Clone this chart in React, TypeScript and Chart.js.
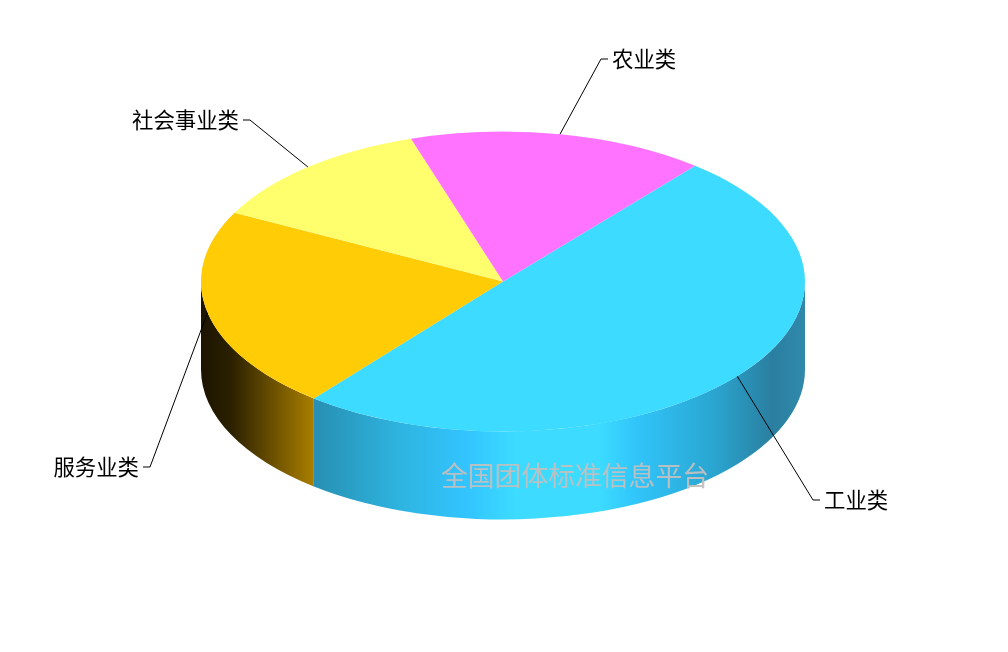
import { useRef, useEffect } from "react";
import { Chart, registerables } from "chart.js";
Chart.register(...registerables);

const categories = ["工业类", "服务业类", "社会事业类", "农业类"];
const shares = [49.8, 21.8, 12.5, 15.9];
const topColors = ["#3cdbff", "#ffcc06", "#ffff6e", "#ff73ff"];
const watermark = "全国团体标准信息平台";

// side wall shading, horizontal gradient stops [x fraction across the pie, colour]
const wallStops: [number, string][][] = [
    [
        [0.185, "#278fb2"],
        [0.33, "#2eb4e0"],
        [0.44, "#33c4ff"],
        [0.52, "#3cdbff"],
        [0.66, "#3cdbff"],
        [0.72, "#31c5fa"],
        [0.85, "#2aa5d0"],
        [0.945, "#2a7fa0"],
        [1, "#3089ab"],
    ],
    [
        [0, "#1c1400"],
        [0.05, "#2b2000"],
        [0.185, "#a87e00"],
    ],
    [[0, "#a6a648"]],
    [[0, "#a64ba6"]],
];

// where each leader line bends, and which side its label sits on
const elbows = [
    { x: 813, y: 500, dir: 1 },
    { x: 150, y: 467, dir: -1 },
    { x: 250, y: 120, dir: -1 },
    { x: 601, y: 59, dir: 1 },
];

const CENTER_Y = 281.5;
const SQUASH = 0.4967;
const DEPTH = 88;

const squash = (ctx: CanvasRenderingContext2D, cy: number) => {
    ctx.translate(0, CENTER_Y);
    ctx.scale(1, SQUASH);
    ctx.translate(0, -cy);
};

const pie3d = {
    id: "pie3d",
    beforeDatasetsDraw: (chart: any) => {
        const ctx = chart.ctx;
        const left = chart.chartArea.left;
        const width = chart.chartArea.width;
        chart.getDatasetMeta(0).data.forEach((arc: any, i: number) => {
            const { x, startAngle, endAngle, outerRadius } = arc.getProps(
                ["x", "startAngle", "endAngle", "outerRadius"],
                true
            );
            // only the part facing the viewer has a wall
            const tau = Math.PI * 2;
            let a = startAngle;
            let b = endAngle;
            while (a < -Math.PI) {
                a += tau;
                b += tau;
            }
            const from = Math.max(a, 0);
            const to = Math.min(b, Math.PI);
            if (to <= from) return;
            const ry = outerRadius * SQUASH;
            const grad = ctx.createLinearGradient(left, 0, left + width, 0);
            wallStops[i].forEach(([p, c]) => grad.addColorStop(p, c));
            ctx.beginPath();
            ctx.ellipse(x, CENTER_Y, outerRadius, ry, 0, from, to);
            ctx.ellipse(x, CENTER_Y + DEPTH, outerRadius, ry, 0, to, from, true);
            ctx.closePath();
            ctx.fillStyle = grad;
            ctx.fill();
        });
    },
    beforeDatasetDraw: (chart: any) => {
        chart.ctx.save();
        squash(chart.ctx, chart.getDatasetMeta(0).data[0].y);
    },
    afterDatasetDraw: (chart: any) => {
        chart.ctx.restore();
    },
    afterDatasetsDraw: (chart: any) => {
        const ctx = chart.ctx;
        ctx.save();
        chart.getDatasetMeta(0).data.forEach((arc: any, i: number) => {
            const { x, startAngle, endAngle, outerRadius } = arc.getProps(
                ["x", "startAngle", "endAngle", "outerRadius"],
                true
            );
            const mid = (startAngle + endAngle) / 2;
            const e = elbows[i];
            ctx.beginPath();
            ctx.moveTo(
                x + outerRadius * Math.cos(mid),
                CENTER_Y + outerRadius * SQUASH * Math.sin(mid)
            );
            ctx.lineTo(e.x, e.y);
            ctx.lineTo(e.x + e.dir * 7, e.y);
            ctx.strokeStyle = "#000";
            ctx.lineWidth = 1;
            ctx.stroke();
            ctx.font = '21.4px "Noto Sans CJK SC"';
            ctx.fillStyle = "#000";
            ctx.textBaseline = "middle";
            ctx.textAlign = e.dir > 0 ? "left" : "right";
            ctx.fillText(categories[i], e.x + e.dir * 11, e.y - 0.5);
        });
        ctx.font = '26.8px "Noto Sans CJK SC"';
        ctx.fillStyle = "rgba(192,192,192,0.95)";
        ctx.textAlign = "center";
        ctx.textBaseline = "middle";
        ctx.fillText(watermark, 575, 475.5);
        ctx.restore();
    },
};

const App = () => {
    const chartContainer = useRef<HTMLCanvasElement>(null);

    useEffect(() => {
        if (chartContainer.current) {
            const chart = new Chart(chartContainer.current, {
                type: "pie",
                data: {
                    labels: categories,
                    datasets: [
                        {
                            data: shares,
                            backgroundColor: topColors,
                            borderWidth: 0,
                            clip: false,
                        } as any,
                    ],
                },
                options: {
                    responsive: false,
                    animation: false,
                    rotation: 39.5,
                    layout: { padding: { left: 201, right: 203 } },
                    plugins: {
                        legend: { display: false },
                        tooltip: { enabled: false },
                    },
                },
                plugins: [pie3d],
            });

            return () => {
                chart.destroy();
            };
        }
    }, []);

    return (
        <div style={{ position: "fixed", left: 0, top: 0, background: "#fff" }}>
            <canvas ref={chartContainer} width={1008} height={652} style={{ display: "block" }} />
        </div>
    );
};

export default App;
